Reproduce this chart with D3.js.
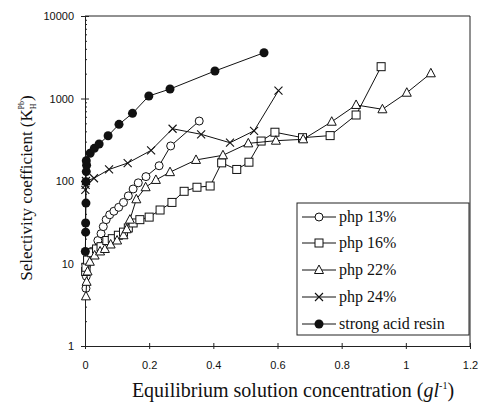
<!DOCTYPE html>
<html><head><meta charset="utf-8">
<script src="https://cdn.jsdelivr.net/npm/d3@7"></script>
<style>body{margin:0;background:#fff}svg{display:block}</style>
</head><body><svg id="c" width="480" height="406"></svg>
<script>
const xTicks = [0, 0.2, 0.4, 0.6, 0.8, 1, 1.2];
const yTicks = [1, 10, 100, 1000, 10000];
const seriesNames = ["php 13%", "php 16%", "php 22%", "php 24%", "strong acid resin"];
const php13 = [[0.003,5.0],[0.004,7.0],[0.005,9.5],[0.02,14],[0.04,19],[0.05,23],[0.057,28],[0.066,34],[0.077,39],[0.09,43],[0.105,48],[0.12,55],[0.135,66],[0.15,80],[0.166,95],[0.19,113],[0.231,153],[0.267,266],[0.356,533]];
const php16 = [[0.002,8],[0.003,9],[0.008,11],[0.021,13.5],[0.036,15],[0.05,16],[0.068,19],[0.085,20],[0.104,22],[0.12,24],[0.135,27],[0.15,31],[0.171,34],[0.2,36.5],[0.234,44.5],[0.271,55],[0.309,75],[0.349,84],[0.39,87],[0.426,166],[0.473,138],[0.511,169],[0.549,305],[0.592,390],[0.678,335],[0.764,355],[0.845,631],[0.923,2430]];
const php22 = [[0.003,4],[0.005,6],[0.008,8],[0.015,10.5],[0.03,12.5],[0.047,14],[0.062,15],[0.08,17],[0.1,19],[0.12,22],[0.13,26],[0.14,34],[0.16,60],[0.189,84],[0.221,103],[0.265,128],[0.346,180],[0.43,205],[0.509,286],[0.595,308],[0.68,320],[0.769,523],[0.845,835],[0.927,740],[1.003,1175],[1.078,2020]];
const php24 = [[0.001,78],[0.002,90],[0.003,100],[0.028,108],[0.075,138],[0.133,165],[0.206,235],[0.273,430],[0.362,368],[0.452,291],[0.527,406],[0.603,1244]];
const resin = [[0.001,14],[0.002,24],[0.002,31],[0.003,54],[0.003,98],[0.004,130],[0.005,155],[0.004,176],[0.016,217],[0.029,249],[0.044,281],[0.072,354],[0.106,486],[0.148,661],[0.199,1072],[0.265,1303],[0.405,2155],[0.558,3590]];
const seriesData = [php13, php16, php22, php24, resin];
const markers = ["circle", "square", "triangle", "cross", "dot"];

const svg = d3.select("#c");
const L = 85, R = 470, T = 16, B = 346;
const x = d3.scaleLinear().domain([0, 1.2]).range([L, R]);
const y = d3.scaleLog().domain([1, 10000]).range([B, T]);
const serif = "'Liberation Serif', 'Times New Roman', Times, serif";

svg.append("path").attr("d", `M${L},${T}H${R}V${B}`).attr("fill","none").attr("stroke","#222").attr("stroke-width",1);

svg.append("g").attr("transform", `translate(0,${B})`)
  .call(d3.axisBottom(x).tickValues(xTicks).tickFormat(d => d === 0 ? "0" : d3.format("")(d)).tickSizeInner(3).tickSizeOuter(0).tickPadding(12));
svg.append("g").attr("transform", `translate(0,${B})`)
  .call(d3.axisBottom(x).tickValues(xTicks).tickFormat("").tickSizeInner(-3).tickSizeOuter(0)).select(".domain").remove();
svg.append("g").attr("transform", `translate(${L},0)`)
  .call(d3.axisLeft(y).tickValues(yTicks).tickFormat(d3.format("d")).tickSizeInner(4).tickSizeOuter(0).tickPadding(7));
svg.append("g").attr("transform", `translate(${L},0)`)
  .call(d3.axisLeft(y).tickValues(yTicks).tickFormat("").tickSizeInner(-4).tickSizeOuter(0)).select(".domain").remove();
const minor = [];
for (let e = 0; e < 4; e++) for (let k = 2; k < 10; k++) minor.push(k * Math.pow(10, e));
svg.append("g").attr("transform", `translate(${L},0)`)
  .call(d3.axisLeft(y).tickValues(minor).tickFormat("").tickSizeInner(-2).tickSizeOuter(0)).select(".domain").remove();
svg.selectAll(".tick line, .domain").attr("stroke", "#222");
svg.selectAll(".tick text").attr("font-family", "'Liberation Sans', Arial, sans-serif").attr("font-size", 11).attr("fill", "#111");

function drawMarker(g, type, cx, cy) {
  if (type === "circle") g.append("circle").attr("cx", cx).attr("cy", cy).attr("r", 4).attr("fill", "#fff").attr("stroke", "#111");
  else if (type === "square") g.append("rect").attr("x", cx - 4).attr("y", cy - 4).attr("width", 8).attr("height", 8).attr("fill", "#fff").attr("stroke", "#111");
  else if (type === "triangle") g.append("path").attr("d", `M${cx},${cy-5}L${cx+4.5},${cy+3.5}L${cx-4.5},${cy+3.5}Z`).attr("fill", "#fff").attr("stroke", "#111");
  else if (type === "cross") g.append("path").attr("d", `M${cx-4},${cy-4}L${cx+4},${cy+4}M${cx-4},${cy+4}L${cx+4},${cy-4}`).attr("stroke", "#111").attr("stroke-width", 1.1);
  else if (type === "dot") g.append("circle").attr("cx", cx).attr("cy", cy).attr("r", 4.5).attr("fill", "#111");
}

const line = d3.line().x(d => x(d[0])).y(d => y(d[1]));
seriesData.forEach((data, i) => {
  const g = svg.append("g");
  g.append("path").datum(data).attr("d", line).attr("fill", "none").attr("stroke", "#111").attr("stroke-width", 1);
  data.forEach(d => drawMarker(g, markers[i], x(d[0]), y(d[1])));
});

const lg = svg.append("g");
lg.append("rect").attr("x", 297).attr("y", 203).attr("width", 172).attr("height", 132).attr("fill", "#fff").attr("stroke", "#222");
const rowY = [217, 243, 270, 297, 324];
seriesNames.forEach((n, i) => {
  lg.append("line").attr("x1", 302).attr("x2", 336).attr("y1", rowY[i]).attr("y2", rowY[i]).attr("stroke", "#111");
  drawMarker(lg, markers[i], 319, rowY[i]);
  lg.append("text").attr("x", 339).attr("y", rowY[i] + 5).text(n)
    .attr("font-family", serif).attr("font-size", 16).attr("fill", "#111");
});

const xt = svg.append("text").attr("x", 293).attr("y", 397).attr("text-anchor", "middle")
  .attr("font-family", serif).attr("font-size", 20).attr("fill", "#111");
xt.append("tspan").text("Equilibrium solution concentration (");
xt.append("tspan").attr("font-style", "italic").text("gl");
xt.append("tspan").attr("font-size", 10).attr("dy", -8).text("-1");
xt.append("tspan").attr("dy", 8).text(")");

const yt = svg.append("text").attr("transform", "translate(32,188) rotate(-90)").attr("text-anchor", "middle")
  .attr("font-family", serif).attr("font-size", 17).attr("fill", "#111");
yt.append("tspan").text("Selectivity coefficient (K");
yt.append("tspan").attr("font-size", 8).attr("dy", 4).text("H");
yt.append("tspan").attr("font-size", 8).attr("dx", -6).attr("dy", -12).text("Pb");
yt.append("tspan").attr("dy", 8).text(")");
</script></body></html>
